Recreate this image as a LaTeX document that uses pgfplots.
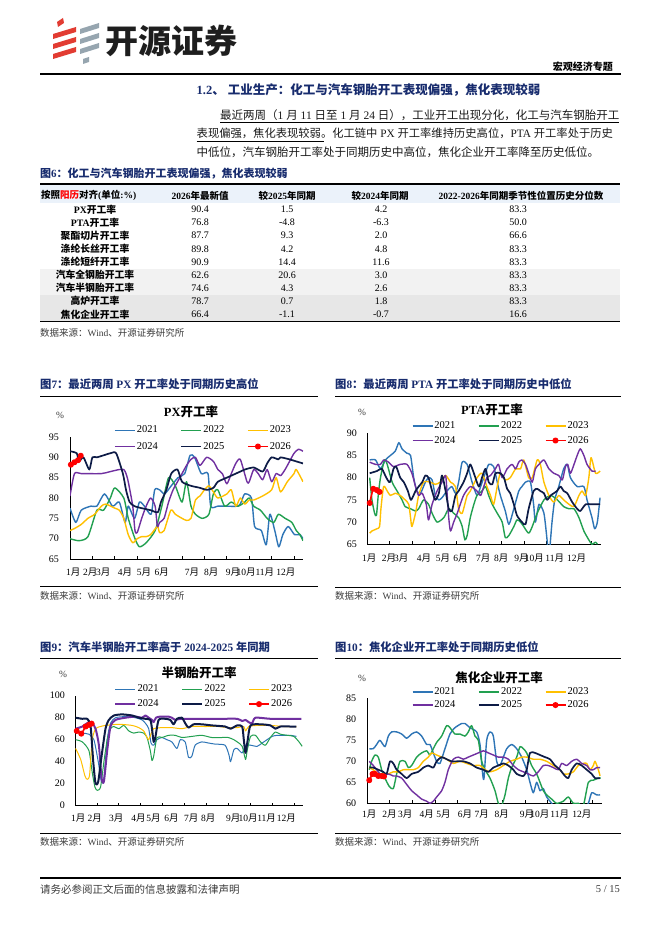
\documentclass[border=0pt]{standalone}
\usepackage{pgfplots}
\pgfplotsset{compat=1.18}
\usepackage{fontspec}
\setmainfont{Liberation Serif}
\newfontfamily\cjk{Noto Sans CJK SC}
\newXeTeXintercharclass\cjkclass
\makeatletter
\count@="4E00
\loop\XeTeXcharclass\count@=\cjkclass\advance\count@ 1 \ifnum\count@<"A000 \repeat
\count@="3000
\loop\XeTeXcharclass\count@=\cjkclass\advance\count@ 1 \ifnum\count@<"3040 \repeat
\count@="FF00
\loop\XeTeXcharclass\count@=\cjkclass\advance\count@ 1 \ifnum\count@<"FFF0 \repeat
\makeatother
\XeTeXinterchartoks 0 \cjkclass = {\cjk}
\XeTeXinterchartoks 4095 \cjkclass = {\cjk}
\XeTeXinterchartoks \cjkclass 0 = {\rmfamily}
\XeTeXinterchartoks \cjkclass 4095 = {\rmfamily}
\XeTeXinterchartokenstate=1

\definecolor{c21}{RGB}{46,117,182}
\definecolor{c22}{RGB}{34,160,80}
\definecolor{c23}{RGB}{255,192,0}
\definecolor{c24}{RGB}{112,48,160}
\definecolor{c25}{RGB}{13,27,70}
\definecolor{c26}{RGB}{255,0,0}
\definecolor{navy}{RGB}{24,44,110}
\definecolor{logored}{RGB}{226,60,50}
\definecolor{logogray}{RGB}{150,165,175}
\definecolor{hdrblue}{RGB}{235,242,250}
\definecolor{rowgA}{RGB}{242,242,242}
\definecolor{rowgB}{RGB}{231,231,231}
\definecolor{srcgray}{RGB}{60,60,60}

\pgfplotsset{
  kk/.style={
    scale only axis, anchor=south west,
    xmin=0, xmax=52,
    axis x line*=bottom, axis y line*=left,
    axis line style={-, black, line width=0.8pt},
    major tick length=0pt,
    /pgf/number format/assume math mode=true,
    yticklabel style={font=\fontsize{10}{10}\selectfont, anchor=east, inner sep=0pt},
    xticklabel style={font=\fontsize{9.5}{10}\selectfont, anchor=center, inner sep=0pt},
    xticklabels={1月,2月,3月,4月,5月,6月,7月,8月,9月,10月,11月,12月},
    extra x ticks={0,5,...,50}, extra x tick labels={},
    extra x tick style={major tick length=3pt, tick align=inside, tick style={black, line width=0.8pt}},
    legend columns=3, legend cell align=left,
    legend style={draw=none, fill=none, inner sep=0pt, anchor=north west,
      font=\fontsize{10.5}{11}\selectfont, nodes={inner sep=1.2pt},
      /tikz/every even column/.append style={column sep=21.5pt}},
    legend image code/.code={\draw[#1] (0pt,0pt) -- (20pt,0pt);},
    every axis plot/.append style={smooth, tension=0.4, line join=round},
  },
  s21/.style={c21, line width=1.4pt},
  s22/.style={c22, line width=1.4pt},
  s23/.style={c23, line width=1.4pt},
  s24/.style={c24, line width=1.4pt},
  s25/.style={c25, line width=1.7pt},
  s26/.style={c26, line width=1.6pt, mark=*, mark size=2.2pt, mark options={solid, fill=c26, draw=c26},
    legend image code/.code={\draw[mark repeat=2, mark phase=2, ##1] plot coordinates {(0pt,0pt) (10pt,0pt) (20pt,0pt)};}},
}

\begin{document}
\begin{tikzpicture}
\path[use as bounding box, fill=white] (0,0) rectangle (662pt,-936pt);
\begin{scope}[x=1pt,y=-1pt]
% logo
\fill[logored] (57,22) -- (63,18) -- (64,23) -- (58,27) -- cycle;
\fill[logored] (53,34) -- (76,27) -- (76,32) -- (53,39) -- cycle;
\fill[logored] (53,44) -- (76,37) -- (76,42) -- (53,49) -- cycle;
\fill[logored] (53,54) -- (76,47) -- (76,52) -- (53,59) -- cycle;
\fill[logogray] (80,29) -- (99,23) -- (99,28) -- (80,34) -- cycle;
\fill[logogray] (80,39) -- (99,33) -- (99,38) -- (80,44) -- cycle;
\fill[logogray] (80,49) -- (99,43) -- (99,48) -- (80,54) -- cycle;
\fill[logogray] (83,59) -- (89,57) -- (89,62) -- (83,64) -- cycle;
\node[anchor=west, inner sep=0pt, font=\fontsize{33}{33}\selectfont\bfseries, text={rgb,255:red,30;green,30;blue,30}] at (105,41) {开源证券};
\node[anchor=east, inner sep=0pt, font=\fontsize{10}{10}\selectfont\bfseries] at (613,67) {宏观经济专题};
\draw[line width=1.2pt] (40,74) -- (621,74);
% heading and text
\node[anchor=west, inner sep=0pt, font=\fontsize{12.5}{13}\selectfont\bfseries, text=navy] at (196.5,90) {1.2、\ 工业生产：化工与汽车钢胎开工表现偏强，焦化表现较弱};
\begin{scope}[every node/.style={anchor=west, inner sep=0pt, font=\fontsize{11.5}{13}\selectfont, text={rgb,255:red,25;green,25;blue,25}}]
\node at (220,115) {最近两周（1 月 11 日至 1 月 24 日），工业开工出现分化，化工与汽车钢胎开工};
\node[font=\fontsize{11.3}{13}\selectfont] at (196.5,133.5) {表现偏强，焦化表现较弱。化工链中 PX 开工率维持历史高位，PTA 开工率处于历史};
\node at (196.5,152) {中低位，汽车钢胎开工率处于同期历史中高位，焦化企业开工率降至历史低位。};
\end{scope}
\draw[line width=0.6pt] (220,122.5) -- (619,122.5);
\draw[line width=0.6pt] (196.5,141) -- (324,141);
% figure 6 table
\node[anchor=west, inner sep=0pt, font=\fontsize{11}{12}\selectfont\bfseries, text=navy] at (40,174) {图6：化工与汽车钢胎开工表现偏强，焦化表现较弱};
\fill[hdrblue] (40,185) rectangle (620,203);
\fill[rowgA] (40,268.5) rectangle (620,294.7);
\fill[rowgB] (40,294.7) rectangle (620,320.9);
\draw[line width=1.2pt] (40,184) -- (620,184);
\draw[line width=1pt] (40,321) -- (620,321);
\begin{scope}[every node/.style={inner sep=0pt, font=\fontsize{9.5}{10}\selectfont\bfseries}]
\node[anchor=west] at (41,195.5) {按照{\color{red}阳历}对齐(单位:\%)};
\node at (200,195.5) {2026年最新值};
\node at (287,195.5) {较2025年同期};
\node at (380,195.5) {较2024年同期};
\node at (521,195.5) {2022-2026年同期季节性位置历史分位数};
\end{scope}
\foreach \lab/\va/\vb/\vc/\vd [count=\i from 0] in {
PX开工率/90.4/1.5/4.2/83.3,
PTA开工率/76.8/-4.8/-6.3/50.0,
聚酯切片开工率/87.7/9.3/2.0/66.6,
涤纶长丝开工率/89.8/4.2/4.8/83.3,
涤纶短纤开工率/90.9/14.4/11.6/83.3,
汽车全钢胎开工率/62.6/20.6/3.0/83.3,
汽车半钢胎开工率/74.6/4.3/2.6/83.3,
高炉开工率/78.7/0.7/1.8/83.3,
焦化企业开工率/66.4/-1.1/-0.7/16.6}{
  \pgfmathsetmacro\yy{209.5+13.1*\i}
  \node[inner sep=0pt, font=\fontsize{9.8}{10}\selectfont\bfseries] at (95,\yy) {\lab};
  \node[inner sep=0pt, font=\fontsize{10}{10}\selectfont] at (200,\yy) {\va};
  \node[inner sep=0pt, font=\fontsize{10}{10}\selectfont] at (287,\yy) {\vb};
  \node[inner sep=0pt, font=\fontsize{10}{10}\selectfont] at (381,\yy) {\vc};
  \node[inner sep=0pt, font=\fontsize{10}{10}\selectfont] at (518,\yy) {\vd};
}
\begin{scope}[every node/.style={anchor=west, inner sep=0pt, font=\fontsize{9.5}{10}\selectfont, text=srcgray}]
\node at (40,333) {数据来源：Wind、开源证券研究所};
\node at (40,596) {数据来源：Wind、开源证券研究所};
\node at (335,596) {数据来源：Wind、开源证券研究所};
\node at (40,842) {数据来源：Wind、开源证券研究所};
\node at (335,842) {数据来源：Wind、开源证券研究所};
\end{scope}
% figure titles
\begin{scope}[every node/.style={anchor=west, inner sep=0pt, font=\fontsize{11.3}{12}\selectfont\bfseries, text=navy}]
\node at (40,384) {图7：最近两周 PX 开工率处于同期历史高位};
\node at (335,384) {图8：最近两周 PTA 开工率处于同期历史中低位};
\node at (40,647) {图9：汽车半钢胎开工率高于 2024-2025 年同期};
\node at (335,647) {图10：焦化企业开工率处于同期历史低位};
\end{scope}
\draw[line width=1pt] (40,396) -- (318,396);
\draw[line width=1pt] (335,396) -- (621,396);
\draw[line width=1pt] (40,658) -- (318,658);
\draw[line width=1pt] (335,658) -- (621,658);
\draw[line width=0.8pt] (40,586) -- (318,586);
\draw[line width=0.8pt] (335,587) -- (621,587);
\draw[line width=0.8pt] (40,833) -- (318,833);
\draw[line width=0.8pt] (335,833) -- (621,833);
% chart titles
\begin{scope}[every node/.style={inner sep=0pt, font=\fontsize{12.5}{13}\selectfont\bfseries}]
\node at (191,412) {PX开工率};
\node at (492,409.5) {PTA开工率};
\node at (199,673) {半钢胎开工率};
\node at (499,678) {焦化企业开工率};
\end{scope}
\begin{scope}[every node/.style={inner sep=0pt, font=\fontsize{9.5}{10}\selectfont, text=srcgray}]
\node at (60,415) {\%};
\node at (362,412) {\%};
\node at (63,674) {\%};
\node at (362,678) {\%};
\end{scope}
% footer
\draw[line width=1.2pt] (40,878) -- (621,878);
\node[anchor=west, inner sep=0pt, font=\fontsize{10.5}{11}\selectfont, text=srcgray] at (40,889) {请务必参阅正文后面的信息披露和法律声明};
\node[anchor=east, inner sep=0pt, font=\fontsize{10.5}{11}\selectfont, text=srcgray] at (620,889) {5 / 15};
\end{scope}

% ---------------- PX chart
\begin{axis}[kk, at={(70pt,-559pt)}, width=233pt, height=122pt,
  ymin=65, ymax=95, ytick={65,70,...,95},
  xtick={0.7,4.5,7.4,12.3,16.5,20.5,27.2,31.5,36.4,39.3,43.5,48.2},
  xticklabel style={yshift=-13pt}, yticklabel style={xshift=-11pt},
  legend style={at={(0.189,1.102)}, row sep=5.4pt}]
\addplot[s21] coordinates {(0,77.5)(1.3,74)(2.5,77)(4.7,78)(6,78)(7.7,81)(9.5,78)(11,79)(12.3,74)(13,78)(14.4,75)(15.5,79)(16.6,78)(18.1,76)(18.9,82)(20,82)(21.1,81)(22.6,83)(24.1,85)(25.6,86)(26.8,90.5)(27.8,90)(29.3,86)(30.8,86)(31.4,78)(33,78)(34.5,78)(37.5,78)(38.2,79)(39,81)(40.5,80)(41.2,73)(42.7,72)(43.8,68.5)(44.6,76)(45.7,72)(46.6,68)(47.5,71)(48.7,73)(50.1,71)(51.3,71)(52,70)};
\addlegendentry{2021}
\addplot[s22] coordinates {(0,70)(2,69.5)(4,70.5)(6,77)(7.5,77)(9,80)(10,82.5)(12,80)(13,75)(14.5,70)(15.5,68)(17,69)(19,72)(20.5,78)(22,85)(23.5,83)(25,79)(26,84)(27,78)(28,76)(29.5,75)(31,76)(32,81)(33,82)(34.5,78)(36,79)(37.5,78)(39,79)(40,80)(41,78)(42.5,77)(44,75)(45.5,74)(46.5,76)(48,75)(49.5,74)(50.5,72)(51.3,71)(52,69.5)};
\addlegendentry{2022}
\addplot[s23] coordinates {(0,72)(1,72.5)(2.5,73.5)(4,75)(5.5,76)(7,78)(8,78.5)(10,77.5)(11,77)(12,75)(13,71)(14,69)(15,70)(16,70.5)(17,70.5)(18,71)(19.5,73)(20,71.5)(21,72)(22.5,77)(23.5,76)(25,75)(26,74.5)(27,75)(28,79.5)(29,80.5)(30,82)(31,83)(32,81.5)(33,80)(35,81)(36,82)(37,78)(38,80)(39,78.5)(40,79.5)(41,79.5)(43,80.5)(45,82)(46,85)(47,81.5)(48.5,84)(50,86)(50.5,87)(52,84)};
\addlegendentry{2023}
\addplot[s24] coordinates {(0,80.5)(1,86)(2.5,86)(7,86)(9,86.5)(11,87)(12,87)(12.5,86)(13,84)(14,78)(14.5,72)(15,71.5)(16,75)(17,78)(18,80)(19,78)(19.5,73)(20,74)(21,75)(22,79)(23,82)(24,84)(25,86)(26,88)(27,89.5)(28,90)(29,88)(30.5,90)(32,89)(33,87)(34,86)(35,83.5)(36,86)(37,88.5)(38,89.5)(39.5,84)(40,84)(41,87)(42,86)(43,84.5)(44,87)(45,84)(46,86)(47,85.5)(48,87)(49,89)(50,91)(51,92)(52,91.5)};
\addlegendentry{2024}
\addplot[s25] coordinates {(0,91.5)(1.5,91)(2,89)(3,90)(4.3,87)(5,90)(6,90)(7.5,90.5)(9,91)(10.3,91)(11.8,86)(12.5,82)(13.3,79)(14.4,78)(16,77.5)(18,77)(19.6,76.5)(20.3,79)(21.5,82)(22.6,86)(24,87)(25,84)(27,83)(29,82.5)(30.5,82)(32,82.5)(33,84)(35,85)(38,86.5)(39,87)(41,87.5)(43,86.5)(44,88.5)(45,90)(46.5,89.5)(47,90)(49,89.5)(50.5,89)(52,88.5)};
\addlegendentry{2025}
\addplot[s26] coordinates {(0.2,88.2)(1,88.8)(1.8,89.3)(2.4,90.4)};
\addlegendentry{2026}
\end{axis}

% ---------------- PTA chart
\begin{axis}[kk, at={(367pt,-544.3pt)}, width=233.5pt, height=111pt,
  ymin=65, ymax=90, ytick={65,70,...,90},
  xtick={0.5,4.9,7.6,12.7,16.9,20.8,25.9,29.9,34.4,37.3,41.8,46.7},
  xticklabel style={yshift=-13.4pt}, yticklabel style={xshift=-10pt},
  legend style={at={(0.191,1.117)}, row sep=3.7pt}]
\addplot[s21] coordinates {(0.6,84)(1.9,84)(3.0,82)(4.1,84)(5.2,85)(6.3,86)(7.1,87.9)(7.8,86.5)(8.9,85.5)(9.7,85)(10.4,80)(11.1,77)(11.9,76.5)(13.0,79)(13.7,80)(14.5,79.5)(15.2,76)(16.0,75)(16.7,75.5)(17.8,77)(18.9,78)(19.7,76.5)(20.4,79)(21.2,83.5)(22.3,83)(23.4,79)(24.5,76)(25.3,78)(26.0,80)(27.1,83)(28.2,82.5)(29.0,79)(29.7,76)(30.8,72.5)(31.6,69.5)(32.7,73)(33.8,77)(34.5,78)(35.3,79)(36.4,79)(37.1,74)(37.5,70)(38.3,74)(39.4,72)(40.1,66)(40.5,62)(41.2,70)(41.8,75)(42.7,78)(43.8,82)(44.6,83)(45.3,80)(46.8,78)(48.3,78)(49.0,75)(50.1,71)(50.7,68.5)(51.3,70)(51.9,75.5)};
\addlegendentry{2021}
\addplot[s22] coordinates {(0.6,80)(1.1,75)(1.7,72)(2.1,71.5)(2.5,76)(3.0,80)(3.9,84)(4.5,83)(5.6,79)(6.7,77)(7.8,75)(8.5,73.5)(9.7,73)(10.8,72.5)(11.5,73)(12.6,75)(13.7,74)(14.5,72)(15.6,70)(17.1,71)(18.2,73)(19.3,72)(20.4,71)(21.2,69)(21.8,66)(22.3,67)(23.0,71)(23.8,74)(24.5,76)(25.6,77)(26.4,78)(27.1,76)(27.9,74)(29.0,72)(30.1,70)(30.8,66.5)(31.6,67)(32.7,69)(33.4,70.5)(34.2,70)(34.9,69)(36.0,67.5)(36.8,69)(37.9,72)(39.4,75)(40.9,76)(42.4,75)(43.8,73.5)(45.0,73)(46.1,73)(47.2,71)(48.3,68)(49.4,66)(50.1,65)(50.9,65.5)(51.3,65)};
\addlegendentry{2022}
\addplot[s23] coordinates {(0.6,67.5)(1.1,68)(2.2,68.5)(2.8,69)(3.1,73)(3.7,78)(4.5,77)(5.2,76)(6.3,76.5)(7.4,76)(8.5,75)(9.3,74)(9.7,71)(10.0,69)(10.8,72)(11.5,76)(12.6,79)(14.1,79)(15.2,78.5)(16.3,79)(17.5,80.5)(18.6,79)(19.7,78)(20.4,73)(21.2,72)(22.3,76)(23.0,77)(24.5,80)(25.6,81)(26.7,78)(27.5,76)(28.2,74)(29.0,78)(29.7,81)(30.8,79.5)(31.9,80)(33.1,82)(34.2,82)(34.9,84)(36.0,80)(36.8,80)(37.9,84)(38.6,83)(39.4,79)(40.5,76)(41.6,74.5)(42.7,76)(43.8,75)(45.0,74)(46.1,73.5)(47.2,76)(47.9,77)(48.7,76)(49.4,80)(49.9,84.5)(50.9,81)(51.9,81.5)};
\addlegendentry{2023}
\addplot[s24] coordinates {(0.6,83.5)(1.9,83)(3.0,83)(3.7,84)(4.8,83.5)(5.9,82.5)(7.4,83)(8.9,83)(10.0,81)(10.8,78)(11.5,76)(12.3,76.5)(13.2,74)(13.7,70.5)(14.5,74)(15.6,77)(16.7,79)(17.5,80.5)(17.8,77)(18.2,71)(18.6,68)(19.3,70)(20.1,72)(21.5,76)(23.0,78)(24.5,77)(25.3,76)(26.0,78)(26.7,80)(27.5,80.5)(28.6,82)(29.3,83)(30.1,80)(31.2,82)(32.3,83)(33.1,82)(33.8,83.5)(34.5,84)(35.3,83)(36.0,81)(36.8,79)(37.5,82)(38.3,83)(39.4,84)(40.5,82)(41.6,81)(42.7,80.5)(43.5,79.5)(44.2,82.5)(44.7,83)(45.3,81)(46.1,83)(46.8,85)(47.5,86.5)(48.3,85)(49.0,83)(50.1,81.5)(50.9,81.5)};
\addlegendentry{2024}
\addplot[s25] coordinates {(0.6,81)(2.2,81.5)(3.3,82)(4.3,80)(5.1,79)(5.9,82)(6.5,82.5)(7.4,80)(8.2,79)(9.1,77)(9.8,75)(10.8,77)(11.5,78)(12.3,79)(13.0,80.5)(13.7,80)(14.5,77)(15.2,75)(16.0,76.5)(16.7,80.5)(17.5,77)(18.2,73)(18.9,72.5)(19.7,76)(20.4,77)(21.5,79)(22.3,81)(23.0,83)(23.8,81)(24.9,78)(25.6,80)(26.4,82)(27.1,79)(27.9,78.5)(28.6,81)(29.7,81)(30.5,80)(31.2,77.5)(31.9,76.5)(32.7,74)(33.4,71.5)(34.5,70)(35.3,69.5)(36.0,73)(37.1,77)(37.9,77.5)(38.6,77)(39.4,76.5)(40.1,75)(40.9,76)(41.6,76.5)(42.3,77)(43.1,78)(43.8,77)(44.6,76.5)(45.7,74.5)(46.8,73)(47.5,72.5)(48.7,74)(50.1,74)(51.9,74)};
\addlegendentry{2025}
\addplot[s26] coordinates {(0.6,74.3)(1.4,77.5)(2.2,77.2)(2.8,76.8)};
\addlegendentry{2026}
\end{axis}

% ---------------- semi-steel tyre chart
\begin{axis}[kk, at={(75pt,-805.7pt)}, width=228pt, height=110pt,
  ymin=0, ymax=100, ytick={0,20,...,100},
  xtick={0.75,4.5,9.4,14.5,17.9,22.0,26.5,30.4,36.1,39.5,43.7,48.2},
  xticklabel style={yshift=-12.3pt}, yticklabel style={xshift=-10pt},
  legend style={at={(0.172,1.11)}, row sep=4pt}]
\addplot[s21, line width=1pt] coordinates {(0.15,67)(1.67,66)(3.18,65)(4.31,60)(5.3,40)(6.06,21)(6.59,25)(7.34,60)(8.1,75)(9.24,80)(11.5,81)(13.78,80)(15.29,78)(16.05,75)(16.81,70)(17.34,57)(17.94,55)(18.7,60)(19.83,62)(20.97,60)(22.1,58)(23.24,52)(24,60)(25.13,58)(25.89,44)(26.65,45)(27.4,55)(28.92,58)(30.43,57)(31.95,56)(34.22,55)(35.13,46)(35.48,40)(36.24,51)(37,52)(38.13,48)(38.89,55)(40.03,55)(41.54,54)(42.7,57)(43.8,60)(44.95,63)(46.09,64)(47.6,64)(49.1,64)(50.5,63)};
\addlegendentry{2021}
\addplot[s22, line width=1pt] coordinates {(0.15,60)(1.67,58)(3.18,50)(3.94,30)(4.54,17)(5.07,14)(5.83,17)(6.59,40)(7.34,60)(8.1,70)(8.86,72)(9.99,70)(11.13,73)(12.26,68)(13.4,66)(14.53,67)(15.67,66)(16.43,62)(17.18,50)(17.56,41)(17.94,45)(18.7,62)(19.83,62)(21.35,64)(22.86,64)(24.38,62)(26.65,63)(28.92,64)(31.19,62)(33.46,62)(34.97,62)(36.24,60)(37,58)(38.13,54)(38.89,42)(39.27,50)(40.03,63)(41.16,64)(42.3,58)(43.43,55)(44.57,62)(45.7,67)(46.84,65)(48.4,64)(49.9,63)(51.1,58)(51.8,54)};
\addlegendentry{2022}
\addplot[s23, line width=1pt] coordinates {(0.15,52)(1.3,42)(2.27,27)(2.8,24)(3.33,28)(3.94,60)(4.69,70)(5.83,72)(6.96,73)(9.99,74)(13.02,73)(14.53,71)(15.67,68)(16.43,62)(16.81,60)(17.41,66)(17.94,70)(19.83,71)(22.1,71)(24.38,70)(26.65,72)(29.67,72)(32.7,72)(34.97,71)(37,71)(38.5,72)(38.89,68)(39.6,72)(41.54,73)(44.57,73)(47.6,72)(49.9,72)(50.5,72)};
\addlegendentry{2023}
\addplot[s24, line width=2pt] coordinates {(0.15,70)(1.67,72)(3.18,76)(3.94,75)(4.69,70)(5.45,55)(6.06,25)(6.59,22)(7.34,50)(8.1,72)(9.24,78)(11.5,80)(13.78,81)(15.29,80)(16.05,82)(16.81,80)(17.56,78)(17.94,76)(18.47,80)(19.45,81)(21.35,81)(22.1,80)(22.86,78)(24,79)(25.89,79)(29.67,79)(33.46,79)(37,79)(38.13,77)(38.89,78)(39.6,76)(40.4,75)(41.16,80)(44.57,79)(48.4,79)(51.6,79)};
\addlegendentry{2024}
\addplot[s25, line width=2pt] coordinates {(0.15,80)(1.67,79)(2.8,79)(3.56,72)(4.16,40)(4.69,20)(5.3,22)(6.06,45)(6.96,70)(7.72,78)(8.86,82)(10.75,83)(13.02,82)(14.53,80)(16.05,79)(17.18,78)(17.56,70)(17.94,58)(18.32,62)(19.08,78)(20.59,79)(21.73,78)(22.48,74)(23.24,79)(24.38,80)(25.13,75)(25.89,71)(27.03,74)(28.92,74)(31.19,73)(34.22,72)(35.48,70)(37,73)(38.13,72)(38.5,60)(38.89,48)(39.4,60)(40.03,73)(42.3,74)(44.57,73)(45.7,70)(46.84,72)(49.1,72)(50.5,72)};
\addlegendentry{2025}
\addplot[s26] coordinates {(0.4,68)(1.44,65.5)(2.42,72)(3.18,73.5)(3.79,74.6)};
\addlegendentry{2026}
\end{axis}

% ---------------- coking chart
\begin{axis}[kk, at={(367.3pt,-803.3pt)}, width=234.4pt, height=105pt,
  ymin=60, ymax=85, ytick={60,65,...,85},
  xtick={0.44,4.9,8.4,13.2,16.9,21.7,25.4,29.8,35.4,38.3,42.7,47.6},
  xticklabel style={yshift=-10.7pt}, yticklabel style={xshift=-11pt},
  legend style={at={(0.189,1.114)}, row sep=2.2pt}]
\addplot[s21] coordinates {(0.44,73)(1.33,73)(2.07,74)(2.81,75)(3.92,73.5)(4.66,76)(5.4,77)(6.51,77)(7.62,76.5)(8.73,75.5)(9.84,76.5)(10.95,77)(12.06,76)(13.17,74)(13.91,74)(14.64,72)(15.38,70)(16.12,69.5)(17.23,73)(18.34,76.5)(19.45,78)(20.93,79)(21.67,79)(22.78,78)(24.26,77)(25,74)(25.59,67)(25.89,66)(26.48,75)(27.22,77)(27.96,76)(28.7,70)(29.44,69)(30.92,73)(32.03,74)(33.14,73)(34.25,71)(35.36,68)(36.09,65)(36.83,62.5)(37.57,65)(38.31,63)(39.05,63.5)(39.79,61.5)(40.9,60)(42.01,58)(43.49,58)(44.97,57)(46.45,57)(47.93,58)(49.04,60)(49.78,62.5)(50.89,62)(51.63,62)};
\addlegendentry{2021}
\addplot[s22] coordinates {(0.44,68)(0.96,70)(1.7,71.5)(2.44,71)(3.18,68)(3.92,66)(4.88,64)(5.77,63.5)(6.51,67)(7.25,70)(8.36,70)(9.1,68.5)(9.84,69)(10.95,71)(12.06,72)(13.17,72.5)(13.91,71.5)(14.64,73)(15.38,74.5)(16.49,76)(17.6,78.5)(18.34,78)(19.45,76.5)(20.56,76.5)(21.67,76)(22.41,77)(23.15,78.5)(23.89,76)(24.63,75)(25.37,70)(26.11,68)(27.22,66)(28.33,63)(29.07,60)(29.81,59.5)(30.55,62)(31.29,66)(32.03,68.5)(33.14,71)(33.88,73.5)(34.62,73)(35.36,72)(36.46,69)(37.57,67)(38.31,65)(39.05,63)(39.79,62)(40.9,61)(42.01,60)(43.49,60.5)(44.6,61.5)(45.71,60)(46.82,60)(47.93,59.5)(49.04,65)(50.15,65.5)(51.26,66)(51.78,66)};
\addlegendentry{2022}
\addplot[s23] coordinates {(0.44,68.5)(1.33,68)(2.44,67)(3.55,67)(4.66,67)(5.77,67.5)(6.88,67.5)(7.99,68)(9.1,68)(10.21,68)(11.32,68.5)(12.43,70)(13.54,71)(14.28,72)(15.38,71.5)(16.49,71)(17.6,70.5)(19.08,69.5)(20.56,70)(22.04,69.5)(23.52,69)(25,69)(26.11,68)(27.22,67.5)(28.7,68)(30.18,69)(31.66,70)(33.14,70.5)(34.25,71)(35.36,71)(36.83,70.5)(38.31,70.5)(39.79,70)(41.27,69)(42.75,68)(43.49,67)(44.6,67)(45.71,67.5)(46.82,69)(47.93,69.5)(48.67,69.5)(49.41,68)(50.15,69)(50.52,70)(51.26,68)(51.63,66.5)};
\addlegendentry{2023}
\addplot[s24] coordinates {(0.44,70)(1.33,69)(2.07,68)(2.81,67)(3.55,66.5)(4.66,67)(5.77,66.5)(6.51,66.5)(7.62,66)(8.73,64.5)(9.84,63)(10.95,62)(12.06,61)(13.17,60.5)(13.91,60)(14.64,60.5)(15.38,61.5)(16.49,63)(17.23,65)(17.97,68)(19.08,70.5)(20.19,71)(21.3,70.5)(22.41,71)(23.52,71.5)(24.63,72)(25.74,72.5)(26.85,72)(27.96,71.5)(29.07,71)(30.18,71)(31.29,70.5)(32.4,69)(33.51,68)(34.62,67.5)(35.72,67)(36.83,66.5)(37.94,67.5)(39.05,69)(40.16,69)(41.27,68.5)(42.38,68)(43.12,69.5)(44.23,69)(45.34,70)(46.45,70.5)(47.56,69.5)(48.67,69)(49.41,68)(50.15,68)(50.89,68.5)(51.63,68.5)};
\addlegendentry{2024}
\addplot[s25] coordinates {(0.44,68.5)(1.33,68.5)(2.44,68)(3.55,67.5)(4.29,67)(5.03,70)(5.77,69.5)(6.51,68)(7.62,67)(8.73,66)(9.84,67)(11.32,67.5)(12.43,68.5)(13.54,69)(14.64,68.5)(15.38,70)(16.49,71)(17.6,70.5)(18.71,70)(20.19,70)(21.3,70)(22.78,69.5)(24.26,68.5)(25.74,68)(26.85,67.5)(27.96,68.5)(29.07,69)(30.18,69.5)(31.29,69)(32.4,68)(33.14,67)(34.62,66.5)(35.36,68)(36.09,72)(37.2,72)(38.31,71.5)(39.42,71)(40.53,70.5)(41.64,69)(42.75,68)(43.86,66.5)(44.6,66)(45.34,68)(46.45,69.5)(47.56,69)(48.67,68)(49.78,67)(50.52,66)(51.63,66)};
\addlegendentry{2025}
\addplot[s26] coordinates {(0.44,65.5)(1.18,67)(1.7,67)(2.44,66.5)(3.18,66.5)(3.7,66.4)};
\addlegendentry{2026}
\end{axis}
\end{tikzpicture}
\end{document}
